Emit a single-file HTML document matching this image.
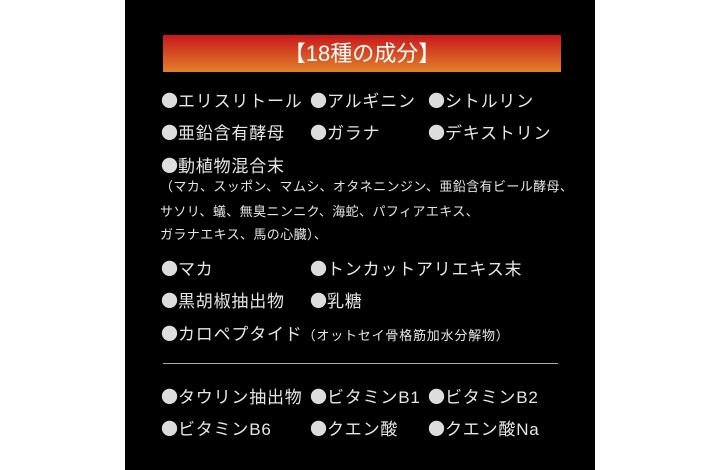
<!DOCTYPE html>
<html><head><meta charset="utf-8"><style>
body{margin:0;width:720px;height:470px;background:#fff;position:relative;overflow:hidden;font-family:"Liberation Sans","Noto Sans CJK JP",sans-serif;}
.p{position:absolute;left:125px;top:0;width:470px;height:470px;background:#000;}
.h{position:absolute;left:163px;top:35px;width:398px;height:37px;background:linear-gradient(#c8181c,#e28028);color:#fff;font-size:22px;text-align:center;line-height:37px;}
.t{position:absolute;color:#e6e6e6;font-size:17px;letter-spacing:0.8px;white-space:nowrap;line-height:20px;}
.t b{font-family:"Noto Sans CJK JP",sans-serif;font-weight:normal;color:#ddd;letter-spacing:0;}
.s{position:absolute;color:#e6e6e6;font-size:13px;letter-spacing:0.4px;white-space:nowrap;line-height:16px;left:160px;}
.ln{position:absolute;left:163px;top:363px;width:395px;height:1px;background:#aaa;}
</style></head><body>
<div class="p"></div>
<div class="h">【18種の成分】</div>
<div class="t" style="left:161px;top:90px"><b>●</b>エリスリトール</div>
<div class="t" style="left:310px;top:90px"><b>●</b>アルギニン</div>
<div class="t" style="left:428px;top:90px"><b>●</b>シトルリン</div>
<div class="t" style="left:161px;top:122px"><b>●</b>亜鉛含有酵母</div>
<div class="t" style="left:310px;top:122px"><b>●</b>ガラナ</div>
<div class="t" style="left:428px;top:122px"><b>●</b>デキストリン</div>
<div class="t" style="left:161px;top:155px"><b>●</b>動植物混合末</div>
<div class="s" style="top:179px">（マカ、スッポン、マムシ、オタネニンジン、亜鉛含有ビール酵母、</div>
<div class="s" style="top:204px">サソリ、蟻、無臭ニンニク、海蛇、パフィアエキス、</div>
<div class="s" style="top:227px">ガラナエキス、馬の心臓）、</div>
<div class="t" style="left:161px;top:258px"><b>●</b>マカ</div>
<div class="t" style="left:310px;top:258px"><b>●</b>トンカットアリエキス末</div>
<div class="t" style="left:161px;top:290px"><b>●</b>黒胡椒抽出物</div>
<div class="t" style="left:310px;top:290px"><b>●</b>乳糖</div>
<div class="t" style="left:161px;top:323px"><b>●</b>カロペプタイド<span style="font-size:13px">（オットセイ骨格筋加水分解物）</span></div>
<div class="ln"></div>
<div class="t" style="left:161px;top:386px"><b>●</b>タウリン抽出物</div>
<div class="t" style="left:310px;top:386px"><b>●</b>ビタミンB1</div>
<div class="t" style="left:428px;top:386px"><b>●</b>ビタミンB2</div>
<div class="t" style="left:161px;top:418px"><b>●</b>ビタミンB6</div>
<div class="t" style="left:310px;top:418px"><b>●</b>クエン酸</div>
<div class="t" style="left:428px;top:418px"><b>●</b>クエン酸Na</div>
</body></html>
